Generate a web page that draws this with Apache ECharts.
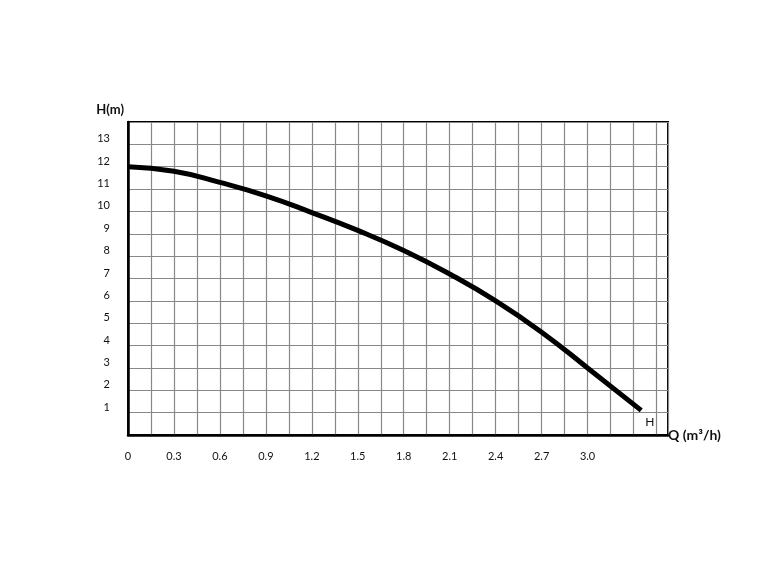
<!DOCTYPE html><html><head><meta charset="utf-8"><script src="https://cdn.jsdelivr.net/npm/echarts@6/dist/echarts.min.js"></script>
<style>body{margin:0;background:#fff}#c{width:774px;height:570px}</style></head><body><div id="c"></div><script>
const flow=[0,0.3,0.6,0.9,1.2,1.5,1.8,2.1,2.4,2.7,3.0,3.35];
const head=[12,11.8,11.3,10.7,9.95,9.15,8.25,7.2,6.0,4.6,3.0,1.1];
const xTicks=['0','0.3','0.6','0.9','1.2','1.5','1.8','2.1','2.4','2.7','3.0'];
const yTicks=[1,2,3,4,5,6,7,8,9,10,11,12,13];
const F='Lato, sans-serif';
const ch=echarts.init(document.getElementById('c'));
ch.setOption({animation:false,
grid:{left:128,top:122,right:106,bottom:135},
xAxis:{type:'value',min:0,max:3.525,interval:0.15,
 name:'Q (m³/h)',nameLocation:'end',nameGap:0,
 nameTextStyle:{fontFamily:F,fontWeight:'bold',fontSize:14,color:'#111',padding:[42,0,0,0],align:'left'},
 axisLine:{lineStyle:{color:'#000',width:2.5}},axisTick:{show:false},
 splitLine:{lineStyle:{color:'#888',width:1.2}},
 axisLabel:{fontFamily:F,fontSize:11,color:'#111',margin:16,
  formatter:v=>{const i=Math.round(v/0.3);return Math.abs(v-i*0.3)<1e-6&&i<xTicks.length?xTicks[i]:'';}}},
yAxis:{type:'value',min:0,max:14,interval:1,
 name:'H(m)',nameLocation:'end',nameGap:6,
 nameTextStyle:{fontFamily:F,fontWeight:'bold',fontSize:13,color:'#111',align:'right',padding:[0,4,0,0]},
 axisLine:{show:true,lineStyle:{color:'#000',width:2.5}},axisTick:{show:false},
 splitLine:{lineStyle:{color:'#888',width:1.2}},
 axisLabel:{fontFamily:F,fontSize:11,color:'#111',margin:18,verticalAlign:'bottom',
  formatter:v=>yTicks.includes(v)?String(v):''}},
series:[{type:'line',smooth:true,symbol:'none',data:flow.map((x,i)=>[x,head[i]]),
 lineStyle:{color:'#000',width:5},
 endLabel:{show:true,formatter:'H',fontFamily:F,fontSize:12,color:'#111',offset:[-4,12]}}],
graphic:[{type:'rect',shape:{x:128,y:122,width:540,height:313},style:{fill:'none',stroke:'#000',lineWidth:2}}]
});
</script></body></html>
